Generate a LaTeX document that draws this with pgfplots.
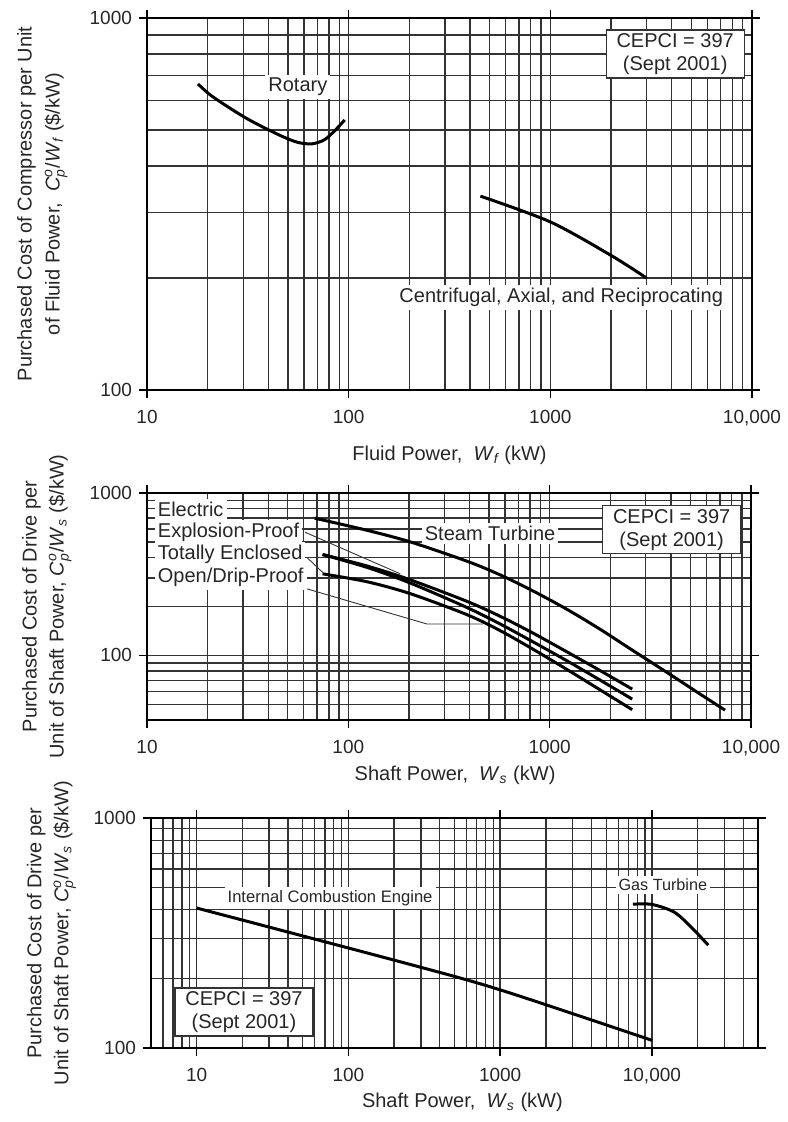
\documentclass[border=0pt]{standalone}
\usepackage{fontspec}
\setmainfont{Liberation Sans}
\usepackage{amsmath}
\usepackage{pgfplots}
\pgfplotsset{compat=1.18}

\tikzset{
  lbl/.style={fill=white, inner xsep=1.5pt, inner ysep=1.5pt, font=\fontsize{10}{12}\selectfont, text=black!85},
  cepci/.style={draw=black!80, line width=0.6pt, fill=white, align=center,
    font=\fontsize{10}{11.5}\selectfont, text=black!85, minimum width=69pt, minimum height=24pt, inner sep=1pt},
  leader/.style={black!80, line width=0.45pt},
  costline/.style={black, line width=1.5pt},
}
\pgfplotsset{
  every axis/.append style={
    scale only axis,
    axis line style={line width=1.1pt},
    grid=both,
    major grid style={black!80, line width=0.7pt},
    minor grid style={black!80, line width=0.7pt},
    tick style={black, line width=0.7pt},
    tick align=outside, major tick length=4pt, minor tick length=0pt,
    ytick={100,1000}, yticklabels={100,1000},
    xtick={10,100,1000,10000}, xticklabels={10,100,1000,{10,000}},
    tick label style={font=\fontsize{9.5}{11}\selectfont, text=black!85},
    x tick label style={yshift=-2.5pt},
    label style={font=\fontsize{10}{13.5}\selectfont, text=black!85},
    y label style={anchor=center, align=center},
    x label style={anchor=center},
  },
}

\begin{document}
\begin{tikzpicture}
\path[use as bounding box] (0,0) rectangle (393.5pt,-561pt);

% compressors
\begin{loglogaxis}[
  at={(73.5pt,-9pt)}, anchor=north west,
  width=302.5pt, height=186pt,
  xmin=10, xmax=10000, ymin=100, ymax=1000,
  minor xtick={20,30,40,50,60,70,80,90,200,300,400,500,600,700,800,900,2000,3000,4000,5000,6000,7000,8000,9000},
  minor ytick={200,300,400,500,600,700,800,900},
  xlabel={Fluid Power,\ \ \textit{W}$_{\textit{f}}$ (kW)},
  xlabel style={at={(axis description cs:0.5,0)}, yshift=-32.5pt},
  ylabel={Purchased Cost of Compressor per Unit\\of Fluid Power,\ \ \textit{C}$^{\textit{o}}_{\textit{p}}$/\textit{W}$_{\textit{f}}$ (\$/kW)},
  ylabel style={at={(axis description cs:-0.173,0.5)}, font=\fontsize{10}{14}\selectfont},
]
\addplot[costline, smooth] coordinates {(17.9,665) (21.2,614) (31.2,537) (45.5,484) (56,463) (66,459) (76,471) (86,500) (95.5,532)};
\addplot[costline, smooth] coordinates {(450,332) (1000,283) (2000,230) (3000,200)};
\node[lbl] at (axis cs:56,653) {Rotary};
\node[lbl] at (axis cs:1132,177) {Centrifugal, Axial, and Reciprocating};
\node[cepci] at (axis cs:4160,800) {CEPCI = 397\\(Sept 2001)};
\end{loglogaxis}

% drives 1
\begin{loglogaxis}[
  at={(73.5pt,-246.5pt)}, anchor=north west,
  width=302pt, height=113.5pt,
  xmin=10, xmax=10000, ymin=40, ymax=1000,
  minor xtick={20,30,40,50,60,70,80,90,200,300,400,500,600,700,800,900,2000,3000,4000,5000,6000,7000,8000,9000},
  minor ytick={50,60,70,80,90,200,300,400,500,600,700,800,900},
  xlabel={Shaft Power,\ \ \textit{W}$_{\textit{s}}$ (kW)},
  xlabel style={at={(axis description cs:0.51,0)}, yshift=-27.5pt},
  ylabel={Purchased Cost of Drive per\\Unit of Shaft Power,\ \textit{C}$^{\textit{o}}_{\textit{p}}$/\textit{W}$_{\textit{s}}$ (\$/kW)},
  ylabel style={at={(axis description cs:-0.166,0.5)}},
]
% steam turbine
\addplot[costline, smooth] coordinates {(68,700) (124,589) (203,500) (389,380) (568,313) (828,249) (1220,192) (1778,145) (2594,107) (3828,78.5) (5584,57.8) (7430,46)};
% electric motors
\addplot[costline, smooth] coordinates {(74.5,418) (124,355) (203,292) (389,215) (568,174) (828,137) (1220,105) (1778,80.7) (2570,62)};
\addplot[costline, smooth] coordinates {(74.5,418) (124,348) (203,279) (389,197) (568,156) (828,121) (1220,92.5) (1778,70.5) (2570,53.8)};
\addplot[costline, smooth] coordinates {(74.5,318) (124,284) (203,240) (389,178) (568,142) (828,109) (1220,81.8) (1778,61.4) (2570,46.3)};
\draw[leader] (axis cs:61,573) -- (axis cs:181,318);
\draw[leader] (axis cs:62.4,400) -- (axis cs:74.8,323);
\draw[leader] (axis cs:59.6,261) -- (axis cs:246,156) -- (axis cs:467,156);
\node[lbl, anchor=west] at (axis cs:10.9,795) {Electric};
\node[lbl, anchor=west] at (axis cs:10.9,573) {Explosion-Proof};
\node[lbl, anchor=west] at (axis cs:10.9,418) {Totally Enclosed};
\node[lbl, anchor=west] at (axis cs:10.9,301) {Open/Drip-Proof};
\node[lbl] at (axis cs:506,565) {Steam Turbine};
\node[cepci] at (axis cs:4035,593) {CEPCI = 397\\(Sept 2001)};
\end{loglogaxis}

% drives 2
\begin{loglogaxis}[
  at={(75.5pt,-409pt)}, anchor=north west,
  width=303.5pt, height=115pt,
  xmin=5, xmax=50000, ymin=100, ymax=1000,
  minor xtick={6,7,8,9,20,30,40,50,60,70,80,90,200,300,400,500,600,700,800,900,2000,3000,4000,5000,6000,7000,8000,9000,20000,30000,40000},
  minor ytick={200,300,400,500,600,700,800,900},
  xlabel={Shaft Power,\ \ \textit{W}$_{\textit{s}}$ (kW)},
  xlabel style={at={(axis description cs:0.513,0)}, yshift=-27pt},
  ylabel={Purchased Cost of Drive per\\Unit of Shaft Power,\ \textit{C}$^{\textit{o}}_{\textit{p}}$/\textit{W}$_{\textit{s}}$ (\$/kW)},
  ylabel style={at={(axis description cs:-0.164,0.5)}},
]
\addplot[costline, smooth] coordinates {(10,406) (220,237) (1000,179) (10000,108)};
\addplot[costline, smooth] coordinates {(7500,422) (10000,421) (14000,390) (18100,336) (23500,280)};
\node[lbl, font=\fontsize{8.3}{10}\selectfont] at (axis cs:75.7,449) {Internal Combustion Engine};
\node[lbl, font=\fontsize{8.1}{10}\selectfont] at (axis cs:11800,512) {Gas Turbine};
\node[cepci] at (axis cs:20.5,143.5) {CEPCI = 397\\(Sept 2001)};
\end{loglogaxis}
\end{tikzpicture}
\end{document}
